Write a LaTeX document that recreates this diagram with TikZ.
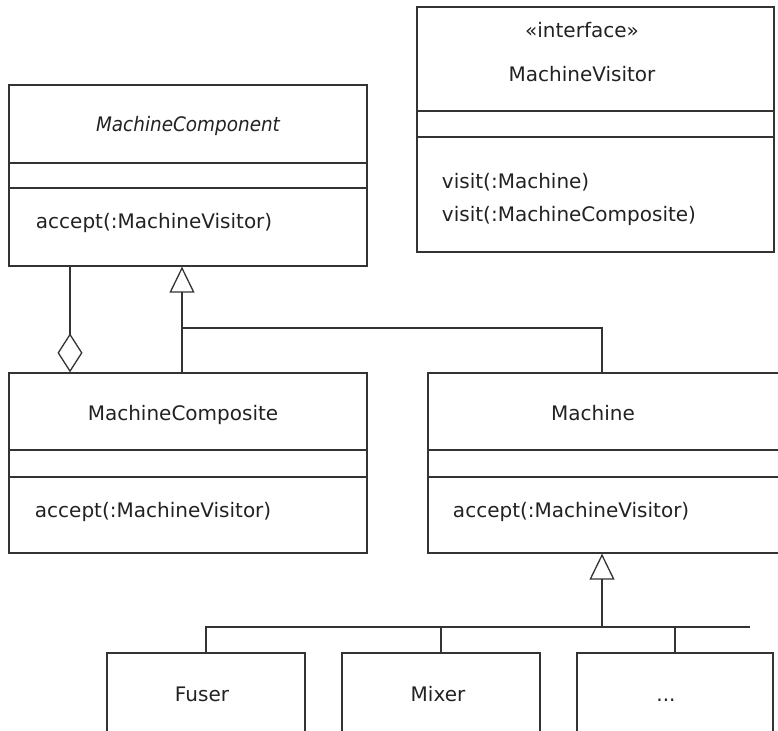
\documentclass[tikz,border=0pt]{standalone}
\usepackage{graphicx}
\usepackage{fontspec}
\setmainfont{DejaVu Sans}
\usetikzlibrary{arrows.meta}
\definecolor{umlline}{HTML}{333333}
\definecolor{umltext}{HTML}{222222}
\begin{document}
\begin{tikzpicture}[x=1pt, y=-1pt, line width=1.3pt, color=umlline,
  every node/.style={font=\fontsize{20}{24}\selectfont, text=umltext},
  class/.style={draw, rectangle, inner sep=0pt, minimum width=358pt},
  title/.style={anchor=base},
  op/.style={anchor=base west},
  sep/.style={line width=1.8pt},
  agg/.style={-{Diamond[open, length=39pt, width=25pt]}},
  gen/.style={-{Triangle[open, length=26pt, width=25pt]}}]
\useasboundingbox (0,0) rectangle (778,730);
\clip (0,0) rectangle (778,730);
\node[class, minimum height=181pt] (comp) at (188,175.5) {};
\node[class, minimum width=357pt, minimum height=245pt] (visitor) at (595.5,129.5) {};
\node[class, minimum height=180pt] (composite) at (188,463) {};
\node[class, minimum height=180pt] (machine) at (607,463) {};
\node[class, minimum width=198pt, minimum height=147pt] (fuser) at (206,726.5) {};
\node[class, minimum width=198pt, minimum height=147pt] (mixer) at (441,726.5) {};
\node[class, minimum width=196pt, minimum height=147pt] (more) at (675,726.5) {};
\draw[sep] (comp.west |- 0,163) -- (comp.east |- 0,163) (comp.west |- 0,188) -- (comp.east |- 0,188);
\draw[sep] (visitor.west |- 0,111) -- (visitor.east |- 0,111) (visitor.west |- 0,137) -- (visitor.east |- 0,137);
\draw[sep] (composite.west |- 0,450) -- (composite.east |- 0,450) (composite.west |- 0,477) -- (composite.east |- 0,477);
\draw[sep] (machine.west |- 0,450) -- (machine.east |- 0,450) (machine.west |- 0,477) -- (machine.east |- 0,477);
\node[title] (compname) at (188,132) {\scalebox{0.92}[1]{\itshape MachineComponent}};
\node[op] (compop) at (32,228) {accept(:MachineVisitor)};
\node[title] (stereo) at (582,38) {«interface»};
\node[title] (visitorname) at (582,82) {MachineVisitor};
\node[op] (visitop1) at (438,189) {visit(:Machine)};
\node[op] (visitop2) at (438,221) {visit(:MachineComposite)};
\node[title] (compositename) at (183,420) {MachineComposite};
\node[op] (compositeop) at (31,517) {accept(:MachineVisitor)};
\node[title] (machinename) at (593,420) {Machine};
\node[op] (machineop) at (449,517) {accept(:MachineVisitor)};
\node[title] (fusername) at (202,701) {Fuser};
\node[title] (mixername) at (438,701) {Mixer};
\node[title] (morename) at (666,701) {...};
\coordinate (aggx) at (70,0);
\coordinate (genhub) at (182,328);
\coordinate (machhub) at (602,627);
\coordinate (busend) at (750,627);
\draw[agg] (comp.south -| aggx) -- (composite.north -| aggx);
\draw[gen] (composite.north -| genhub) -- (comp.south -| genhub);
\draw (machine.north -| machhub) |- (genhub);
\draw[gen] (machhub) -- (machine.south -| machhub);
\draw (fuser.north) |- (busend);
\draw (mixer.north) -- (mixer.north |- busend);
\draw (more.north) -- (more.north |- busend);
\end{tikzpicture}
\end{document}
